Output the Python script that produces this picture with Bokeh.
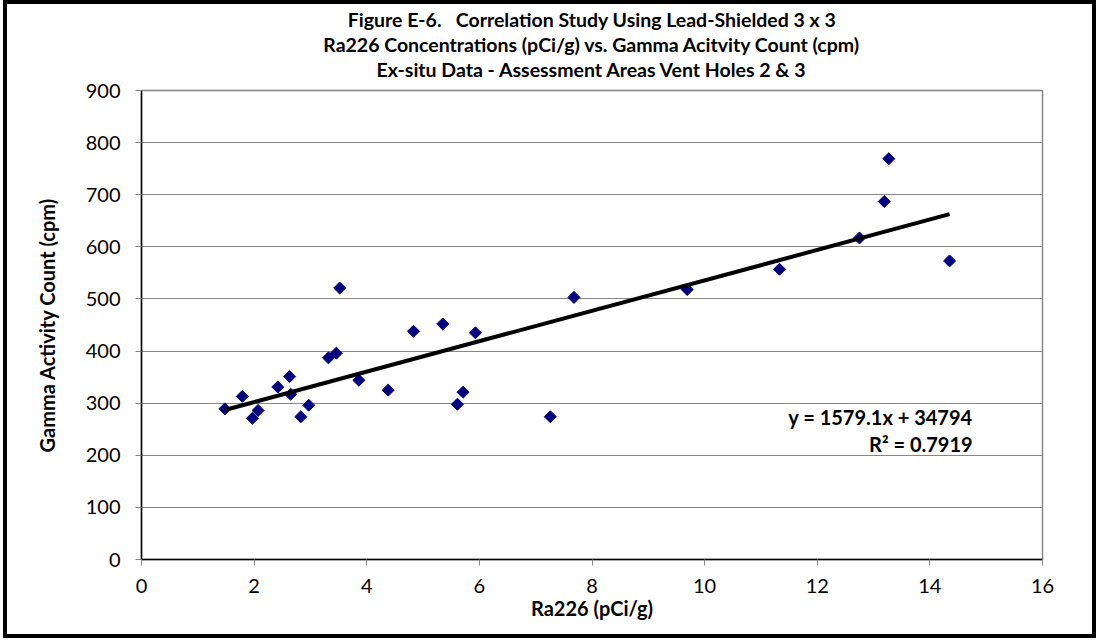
import numpy as np
from bokeh.plotting import figure
from bokeh.models import Range1d, FixedTicker, Label, Title
from bokeh.embed import file_html
from bokeh.resources import INLINE

# ---- data ----
ra226 = [1.48, 1.79, 1.97, 2.07, 2.42, 2.63, 2.65, 2.83, 2.97, 3.32, 3.46, 3.52, 3.86,
         4.38, 4.83, 5.35, 5.61, 5.71, 5.93, 7.26, 7.68, 9.69, 11.33, 12.75, 13.19,
         13.27, 14.35]
gamma = [289, 313, 271, 286, 331, 351, 317, 274, 296, 387, 396, 521, 344,
         325, 438, 452, 298, 321, 435, 274, 503, 518, 557, 617, 687, 769, 573]
x_ticks = [0, 2, 4, 6, 8, 10, 12, 14, 16]
y_ticks = [0, 100, 200, 300, 400, 500, 600, 700, 800, 900]
title_lines = [
    "Figure E-6. \u00a0 Correlation Study Using Lead-Shielded 3 x 3",
    "Ra226 Concentrations (pCi/g) vs. Gamma Acitvity Count (cpm)",
    "Ex-situ Data - Assessment Areas Vent Holes 2 & 3",
]
equation_text = "y = 1579.1x + 34794"
r2_text = "R\u00b2 = 0.7919"

FONT = "Lato"
GRAY = "#868686"

p = figure(width=1093, height=638, output_backend="svg", toolbar_location=None,
           title=None,
           x_range=Range1d(0, 16), y_range=Range1d(0, 900),
           min_border_left=134, min_border_right=58, min_border_top=86, min_border_bottom=83,
           styles={"border": "4px solid black", "margin-left": "3px"})
p.background_fill_color = "white"
p.border_fill_color = "white"
p.outline_line_color = GRAY
p.outline_line_width = 1.5

# grid
p.xgrid.visible = False
p.ygrid.grid_line_color = GRAY
p.ygrid.grid_line_width = 1
p.ygrid.ticker = FixedTicker(ticks=y_ticks)

# axes
for ax in (p.xaxis[0], p.yaxis[0]):
    ax.axis_line_color = "black"
    ax.axis_line_width = 1.5
    ax.major_tick_line_color = GRAY
    ax.major_tick_out = 6
    ax.major_tick_in = 0
    ax.minor_tick_line_color = None
    ax.major_label_text_font = FONT
    ax.major_label_text_font_size = "20px"
    ax.major_label_text_color = "black"
    ax.axis_label_text_font = FONT
    ax.axis_label_text_font_size = "20px"
    ax.axis_label_text_font_style = "bold"
    ax.axis_label_text_color = "black"

p.xaxis.ticker = FixedTicker(ticks=x_ticks)
p.yaxis.ticker = FixedTicker(ticks=y_ticks)
p.xaxis.axis_label = "Ra226 (pCi/g)"
p.yaxis.axis_label = "Gamma Activity Count (cpm)"
p.xaxis.major_label_standoff = 13
p.xaxis.axis_label_standoff = 0
p.yaxis.major_label_standoff = 15
p.yaxis.axis_label_standoff = 24

# data points: diamonds
p.scatter(ra226, gamma, marker="square", size=8.5, angle=np.pi / 4,
          fill_color="#000080", line_color="#000080")

# linear trendline
xs = np.array(ra226)
slope, intercept = np.polyfit(xs, np.array(gamma), 1)
tx = [xs.min(), xs.max()]
ty = [slope * v + intercept for v in tx]
p.line(tx, ty, line_color="black", line_width=4)

# equation labels
p.add_layout(Label(x=14.76, y=272.5, text=equation_text, text_align="right",
                   text_baseline="middle", text_font=FONT,
                   text_font_size="20px", text_font_style="bold", text_color="black"))
p.add_layout(Label(x=14.76, y=222.6, text=r2_text, text_align="right",
                   text_baseline="middle", text_font=FONT,
                   text_font_size="20px", text_font_style="bold", text_color="black"))

# small spacer panel between the frame and the title block
p.add_layout(Title(text=" ", text_font=FONT, text_font_size="7px", standoff=0), "above")
# title lines: the first added sits closest to the frame
for line in reversed(title_lines):
    p.add_layout(Title(text=line, align="center", text_font=FONT,
                       text_font_size="19.5px", text_font_style="bold",
                       text_color="black", standoff=0), "above")

open("out.html", "w").write(file_html(p, INLINE))
